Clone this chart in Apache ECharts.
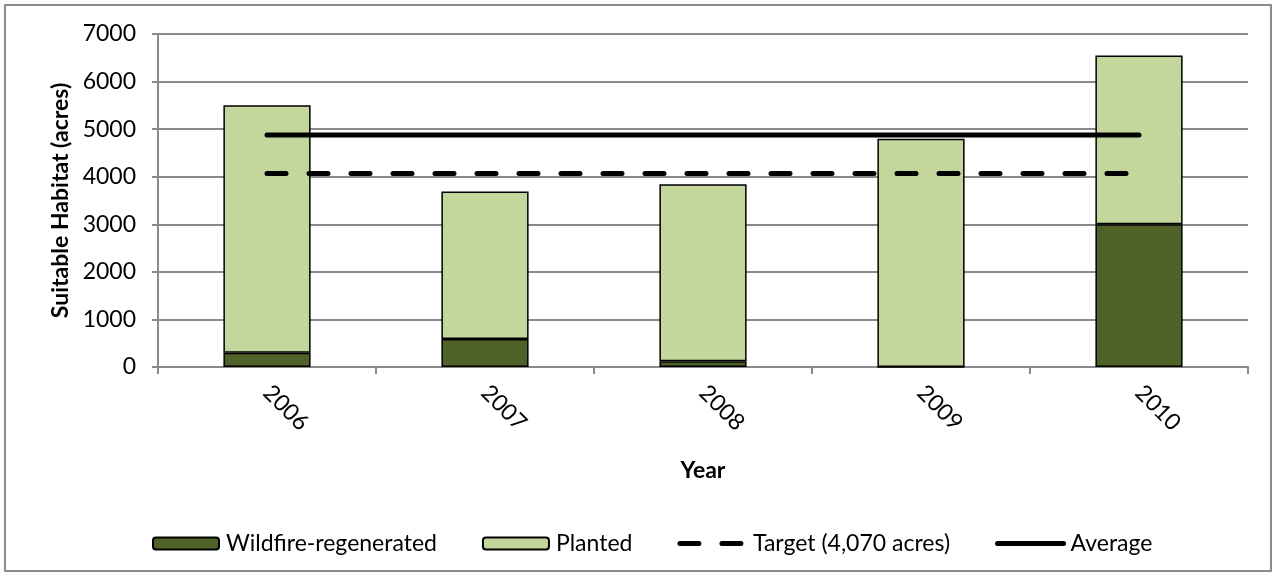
<!DOCTYPE html>
<html>
<head>
<meta charset="utf-8">
<script src="https://cdn.jsdelivr.net/npm/echarts@6/dist/echarts.min.js"></script>
<style>
    html, body { margin: 0; padding: 0; background: #fff; }
    #chart { width: 1275px; height: 577px; }
</style>
</head>
<body>
<div id="chart"></div>
<script>
// Chart data
const years = ['2006', '2007', '2008', '2009', '2010'];
const wildfire = [300, 590, 120, 0, 3000];
const planted = [5200, 3100, 3720, 4800, 3550];
const target = [4070, 4070, 4070, 4070, 4070];
const average = [4876, 4876, 4876, 4876, 4876];
const yTicks = [0, 7000, 1000]; // min, max, interval

const FONT = 'Lato';
const FONT_SIZE = 23;
const GRID_GRAY = '#8a8a8a';

const chart = echarts.init(document.getElementById('chart'));

const option = {
    animation: false,
    textStyle: { fontFamily: FONT, color: '#000' },
    graphic: [{
        type: 'rect',
        shape: { x: 5, y: 5, width: 1266, height: 566 },
        style: { fill: 'none', stroke: '#8c8c8c', lineWidth: 2 },
        silent: true
    }],
    grid: {
        left: 158,
        right: 27,
        top: 34,
        bottom: 210
    },
    legend: {
        left: 147,
        top: 527,
        itemWidth: 66,
        itemHeight: 12,
        itemGap: 45,
        textStyle: { fontFamily: FONT, fontSize: FONT_SIZE, color: '#000', padding: [0, 0, 0, 2] },
        data: [
            'Wildfire-regenerated',
            'Planted',
            { name: 'Target (4,070 acres)', itemStyle: { opacity: 0 }, lineStyle: { width: 5 } },
            { name: 'Average', itemStyle: { opacity: 0 }, lineStyle: { width: 5 } }
        ]
    },
    xAxis: {
        type: 'category',
        data: years,
        name: 'Year',
        nameLocation: 'middle',
        nameGap: 92,
        nameTextStyle: { fontFamily: FONT, fontSize: FONT_SIZE, fontWeight: 'bold', color: '#000' },
        axisLine: { lineStyle: { color: GRID_GRAY, width: 2 } },
        axisTick: { show: true, length: 7, lineStyle: { color: GRID_GRAY, width: 2 } },
        axisLabel: {
            rotate: -45,
            margin: 22,
            fontFamily: FONT,
            fontSize: FONT_SIZE,
            color: '#000'
        }
    },
    yAxis: {
        type: 'value',
        min: yTicks[0],
        max: yTicks[1],
        interval: yTicks[2],
        name: 'Suitable Habitat (acres)',
        nameLocation: 'middle',
        nameGap: 85,
        nameTextStyle: { fontFamily: FONT, fontSize: FONT_SIZE, fontWeight: 'bold', color: '#000' },
        axisLine: { show: true, lineStyle: { color: GRID_GRAY, width: 2 } },
        axisTick: { show: true, length: 6, lineStyle: { color: GRID_GRAY, width: 2 } },
        splitLine: { lineStyle: { color: GRID_GRAY, width: 2 } },
        axisLabel: {
            margin: 22,
            fontFamily: FONT,
            fontSize: FONT_SIZE,
            color: '#000',
            formatter: value => String(value)
        }
    },
    series: [
        {
            name: 'Wildfire-regenerated',
            type: 'bar',
            stack: 'habitat',
            barWidth: '40%',
            data: wildfire,
            itemStyle: { color: '#4F6228', borderColor: '#000', borderWidth: 1.5 }
        },
        {
            name: 'Planted',
            type: 'bar',
            stack: 'habitat',
            barWidth: '40%',
            data: planted,
            itemStyle: { color: '#C3D69B', borderColor: '#000', borderWidth: 1.5 }
        },
        {
            name: 'Target (4,070 acres)',
            type: 'line',
            data: target,
            symbol: 'none',
            z: 5,
            lineStyle: {
                color: '#000',
                width: 5,
                type: [19, 23],
                cap: 'round'
            },
            itemStyle: { color: '#000' }
        },
        {
            name: 'Average',
            type: 'line',
            data: average,
            symbol: 'none',
            z: 5,
            lineStyle: { color: '#000', width: 5, cap: 'round' },
            itemStyle: { color: '#000' }
        }
    ]
};

chart.setOption(option);
</script>
</body>
</html>
